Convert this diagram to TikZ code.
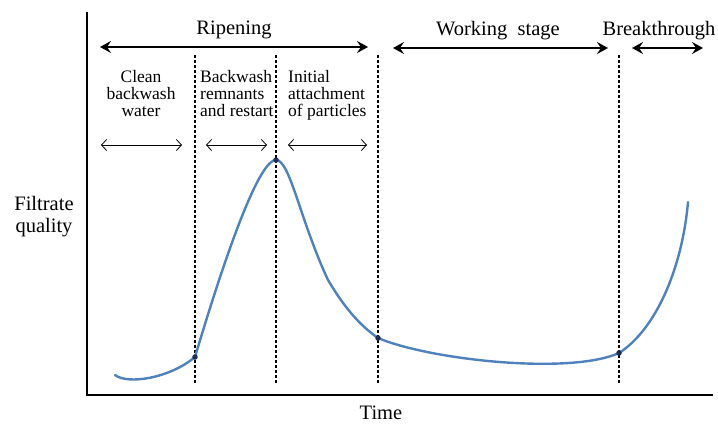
\documentclass[tikz,border=0pt]{standalone}
\usepackage{fontspec}
\setmainfont{Liberation Serif}
\usetikzlibrary{arrows.meta}
\definecolor{curveblue}{RGB}{79,129,189}
\definecolor{dotnavy}{RGB}{30,45,80}
\begin{document}
\begin{tikzpicture}[x=1pt,y=-1pt,
  bigtxt/.style={font=\fontsize{20.5}{22}\selectfont, inner sep=0pt, align=center},
  subtxt/.style={font=\fontsize{17.5}{17}\selectfont, inner sep=0pt},
  bigarrow/.style={line width=2.6pt, {Stealth[length=11pt,width=12pt,inset=4pt]}-{Stealth[length=11pt,width=12pt,inset=4pt]}},
  smallarrow/.style={line width=0.8pt, {Straight Barb[length=5pt,width=11pt]}-{Straight Barb[length=5pt,width=11pt]}},
  divider/.style={densely dashed, line width=1.1pt},
  axis/.style={line width=2.2pt},
  dot/.style={circle, fill=dotnavy, inner sep=0pt, minimum size=5.5pt}]
\useasboundingbox (0,0) rectangle (718,424);
% axes
\coordinate (ytop) at (87,12);
\coordinate (origin) at (87,395);
\coordinate (xend) at (713,395);
\draw[axis] (ytop) -- (origin) -- (xend);
% dashed dividers
\foreach \n/\x in {d1/195,d2/276,d3/378,d4/619}{
  \coordinate (\n t) at (\x,55);
  \coordinate (\n b) at (\x,384);
  \draw[divider] (\n t) -- (\n b);
}
% top labels
\node[bigtxt] (rip) at (234,30) {Ripening};
\node[bigtxt] (work) at (498,31) {Working\ \ stage};
\node[bigtxt] (brk) at (659,31) {Breakthrough};
\coordinate (r1) at (100,47); \coordinate (r2) at (368,47);
\coordinate (w1) at (393,48); \coordinate (w2) at (608,48);
\coordinate (b1) at (632,48); \coordinate (b2) at (703,48);
\draw[bigarrow] (r1) -- (r2);
\draw[bigarrow] (w1) -- (w2);
\draw[bigarrow] (b1) -- (b2);
% sub labels
\node[subtxt, align=center, anchor=north] (clean) at (141,70) {Clean\\backwash\\water};
\node[subtxt, align=left, anchor=north west] (remn) at (200,70) {Backwash\\remnants\\and restart};
\node[subtxt, align=left, anchor=north west] (init) at (288,70) {Initial\\attachment\\of particles};
\coordinate (s1) at (101,145); \coordinate (s2) at (182,145);
\coordinate (s3) at (206,145); \coordinate (s4) at (267,145);
\coordinate (s5) at (288,145); \coordinate (s6) at (367,145);
\draw[smallarrow] (s1) -- (s2);
\draw[smallarrow] (s3) -- (s4);
\draw[smallarrow] (s5) -- (s6);
% axis labels
\node[bigtxt] (fq) at (44,217) {Filtrate\\quality};
\node[bigtxt] (time) at (381,413) {Time};
% curve
\coordinate (c0) at (115,375);
\coordinate (p1c) at (195,357);
\coordinate (p2c) at (276,160);
\coordinate (k1) at (328,280);
\coordinate (p3c) at (378,338);
\coordinate (p4c) at (619,353);
\coordinate (cend) at (688,202);
\draw[curveblue, line width=2.4pt, line cap=round, line join=round]
  (c0) .. controls (128,385) and (170,378) .. (p1c)
       .. controls (212,300) and (255,160) .. (p2c)
       .. controls (290,160) and (300,220) .. (k1)
       .. controls (340,300) and (355,322) .. (p3c)
       .. controls (430,360) and (570,375) .. (p4c)
       .. controls (655,330) and (682,270) .. (cend);
% intersection dots
\node[dot] (p1) at (p1c) {};
\node[dot] (p2) at (p2c) {};
\node[dot] (p3) at (p3c) {};
\node[dot] (p4) at (p4c) {};
\end{tikzpicture}
\end{document}
